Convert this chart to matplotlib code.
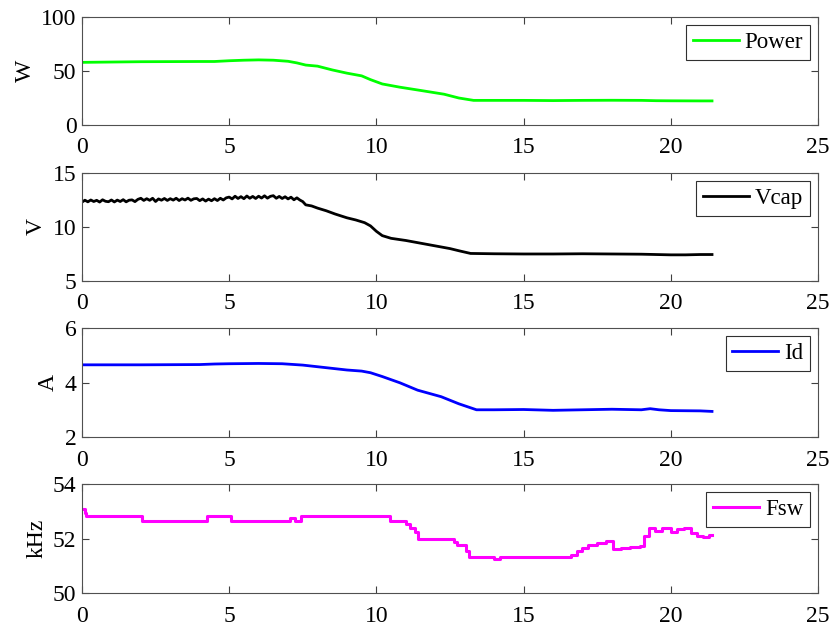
#! /usr/bin/env python3

import numpy as np
import matplotlib
matplotlib.use("Agg")
import matplotlib.pyplot as plt

plt.rcParams['font.family'] = ['Liberation Serif', 'DejaVu Serif']

# Power (W)
t_power = [0, 1, 2, 3, 4, 4.5, 5, 5.5, 6, 6.5, 7, 7.3, 7.6, 8, 8.5, 9, 9.5,
           9.8, 10.2, 10.8, 11.5, 12.3, 12.8, 13.3, 14, 15, 16, 17, 18, 19,
           19.5, 20, 21, 21.4]
power = [58, 58.3, 58.6, 58.7, 58.8, 58.8, 59.5, 60, 60.3, 60, 59, 57.5, 55.5,
         54.5, 51, 48, 45.5, 42, 38, 35, 32, 28.5, 25, 22.8, 22.8, 22.8, 22.6,
         22.8, 22.9, 22.8, 22.5, 22.4, 22.3, 22.3]

# Capacitor voltage (V): noisy part read at 0.1 s, then smoother
vcap_noisy = [12.30, 12.48, 12.33, 12.50, 12.36, 12.47, 12.31, 12.52, 12.38, 12.34,
              12.50, 12.32, 12.49, 12.36, 12.53, 12.33, 12.48, 12.51, 12.35, 12.56,
              12.66, 12.46, 12.62, 12.47, 12.66, 12.36, 12.60, 12.48, 12.64, 12.46,
              12.62, 12.49, 12.66, 12.45, 12.62, 12.50, 12.67, 12.47, 12.61, 12.64,
              12.44, 12.60, 12.40, 12.58, 12.43, 12.62, 12.45, 12.66, 12.50, 12.70,
              12.77, 12.60, 12.85, 12.64, 12.81, 12.62, 12.87, 12.66, 12.83, 12.64,
              12.85, 12.68, 12.89, 12.67, 12.84, 12.90, 12.66, 12.83, 12.64, 12.80,
              12.60, 12.76, 12.52, 12.70, 12.50, 12.35, 12.05]
t_vcap_tail = [7.8, 8.0, 8.3, 8.6, 9.0, 9.3, 9.6, 9.8, 10.0, 10.2, 10.5, 11.0,
               11.5, 12.0, 12.5, 12.8, 13.2, 14, 15, 16, 17, 18, 19, 20, 20.5,
               21, 21.4]
vcap_tail = [11.95, 11.75, 11.5, 11.2, 10.85, 10.65, 10.4, 10.1, 9.6, 9.2, 8.95,
             8.75, 8.5, 8.25, 8.0, 7.8, 7.55, 7.52, 7.5, 7.5, 7.52, 7.5, 7.48,
             7.42, 7.42, 7.45, 7.45]

# Drain current (A)
t_id = [0, 2, 4, 4.5, 5, 6, 6.8, 7.5, 8, 8.5, 9, 9.5, 9.8, 10.2, 10.8, 11.4,
        12.2, 12.8, 13.4, 14, 15, 16, 17, 18, 19, 19.3, 19.6, 20, 21, 21.4]
id_a = [4.65, 4.65, 4.66, 4.68, 4.69, 4.70, 4.69, 4.64, 4.58, 4.52, 4.46, 4.42,
        4.36, 4.22, 3.99, 3.72, 3.48, 3.22, 3.0, 3.0, 3.01, 2.98, 3.0, 3.02,
        3.0, 3.04, 3.0, 2.97, 2.96, 2.94]

# Switching frequency (kHz), stepwise
t_fsw = [0, 0.1, 0.15, 2.05, 4.25, 5.05, 7.05, 7.25, 7.45, 10.45, 11.0, 11.15,
         11.3, 11.42, 12.65, 12.75, 13.05, 13.15, 14.0, 14.2, 16.6, 16.8, 17.0,
         17.2, 17.5, 17.8, 18.05, 18.3, 18.6, 18.95, 19.1, 19.25, 19.45, 19.7,
         20.0, 20.2, 20.45, 20.7, 20.9, 21.1, 21.3, 21.4]
fsw = [53.08, 52.95, 52.82, 52.65, 52.82, 52.65, 52.74, 52.65, 52.82, 52.65,
       52.52, 52.38, 52.25, 51.98, 51.88, 51.78, 51.55, 51.32, 51.25, 51.32,
       51.4, 51.55, 51.65, 51.76, 51.85, 51.9, 51.6, 51.65, 51.7, 51.74, 52.1,
       52.37, 52.28, 52.37, 52.25, 52.35, 52.37, 52.2, 52.1, 52.05, 52.13, 52.13]

t_vcap = list(np.round(np.arange(len(vcap_noisy)) * 0.1, 2)) + t_vcap_tail
vcap = vcap_noisy + vcap_tail

panels = [
    (t_power, power, '#00ff00', 'Power', 'W', (0, 100), [0, 50, 100], 2.0, 'default'),
    (t_vcap, vcap, 'black', 'Vcap', 'V', (5, 15), [5, 10, 15], 2.0, 'default'),
    (t_id, id_a, '#0000ff', 'Id', 'A', (2, 6), [2, 4, 6], 2.0, 'default'),
    (t_fsw, fsw, '#ff00ff', 'Fsw', 'kHz', (50, 54), [50, 52, 54], 2.2, 'steps-post'),
]

bottoms = [0.8016, 0.554, 0.3063, 0.0587]
heights = [0.1714, 0.1714, 0.173, 0.173]

fig = plt.figure(figsize=(8.33, 6.3), dpi=100)
for (t, y, col, name, unit, ylim, yt, lw, ds), b, h in zip(panels, bottoms, heights):
    ax = fig.add_axes([0.0984, b, 0.8836, h])
    ax.plot(t, y, color=col, lw=lw, drawstyle=ds, label=name)
    ax.set_xlim(0, 25)
    ax.set_ylim(*ylim)
    ax.set_xticks([0, 5, 10, 15, 20, 25])
    ax.set_yticks(yt)
    ax.set_ylabel(unit, fontsize=17, labelpad=4)
    ax.tick_params(axis='both', direction='in', top=True, right=True, length=5,
                   width=0.8, color='#404040', labelsize=17)
    ax.tick_params(axis='x', pad=9)
    ax.tick_params(axis='y', pad=4)
    for s in ax.spines.values():
        s.set_color('#505050')
        s.set_linewidth(0.8)
    leg = ax.legend(loc='upper right', fontsize=16.5, handlelength=2.0,
                    fancybox=False, framealpha=1, borderpad=0.3,
                    handletextpad=0.25, borderaxespad=0.35)
    leg.get_frame().set_edgecolor('#303030')
    leg.get_frame().set_linewidth(0.8)

fig.savefig("out.png", dpi=100)
